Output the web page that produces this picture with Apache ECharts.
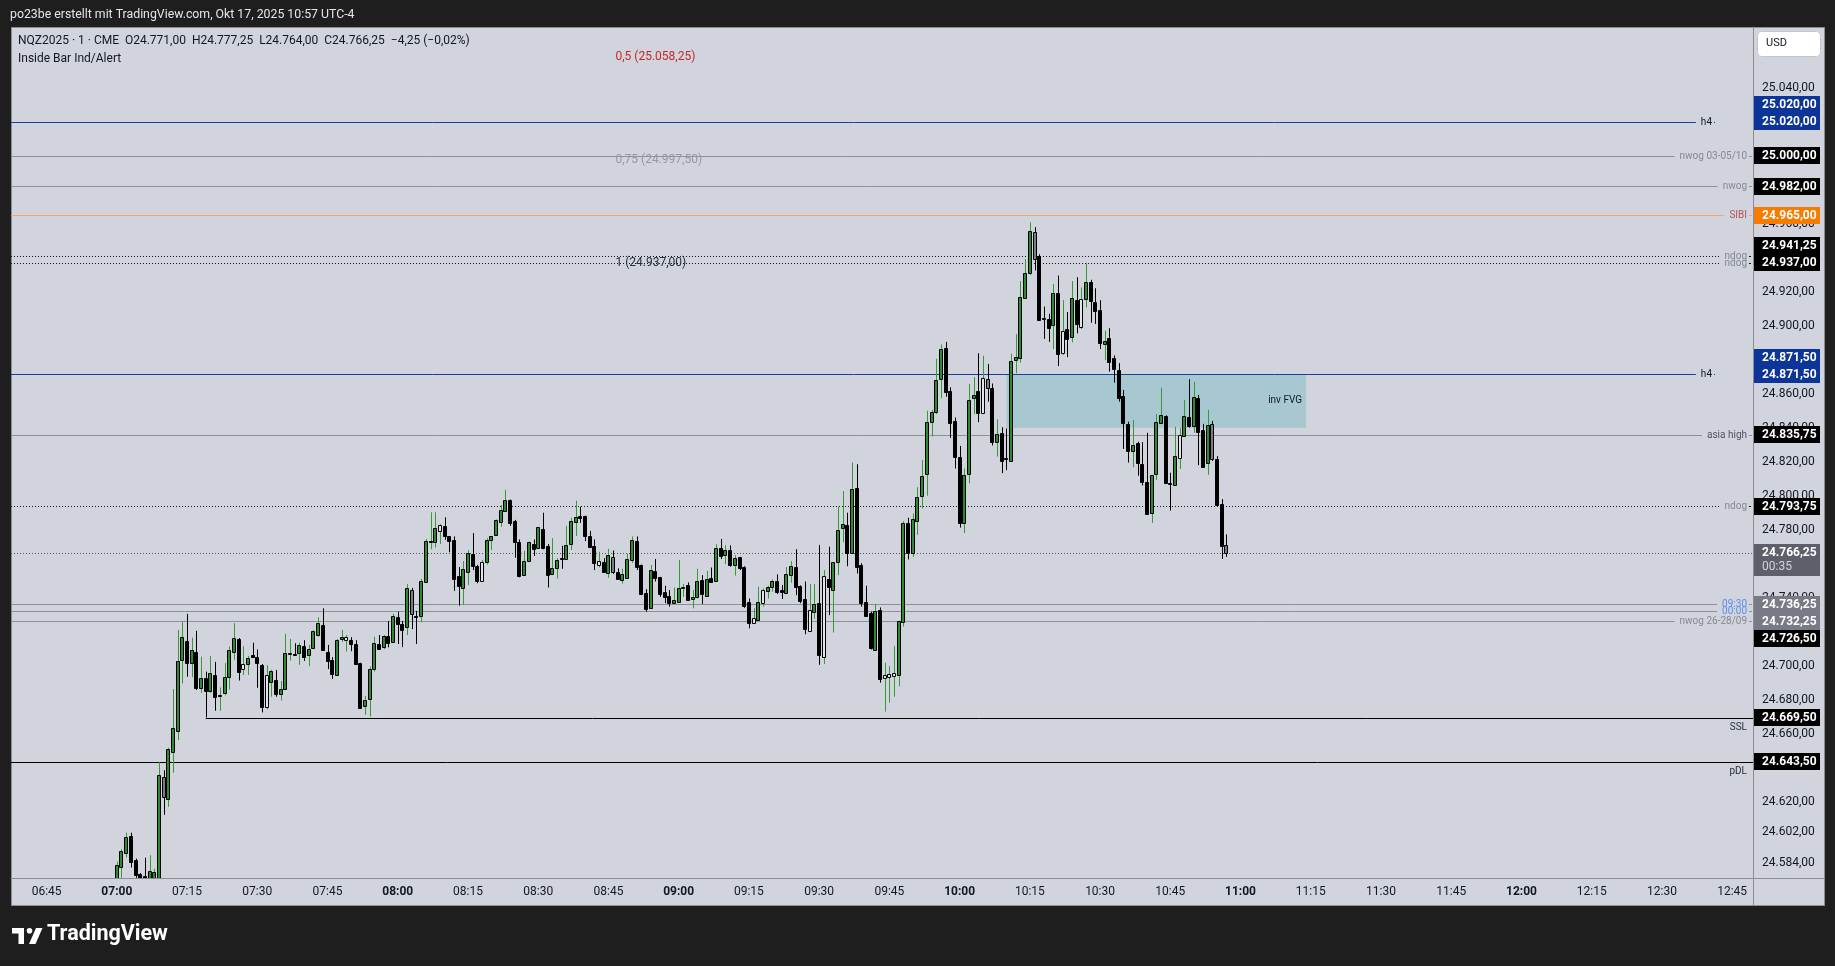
<!DOCTYPE html>
<html><head><meta charset="utf-8">
<script src="https://cdn.jsdelivr.net/npm/echarts@6/dist/echarts.min.js"></script>
<style>
html,body{margin:0;padding:0;background:#1e1e1e;width:1835px;height:966px;overflow:hidden}
#panel{position:absolute;left:11px;top:27px;width:1814px;height:879px;background:#d1d4dc;box-sizing:border-box;border:1px solid #8a8d96}
#chart{position:absolute;left:0;top:0;width:1835px;height:966px}
</style></head><body>
<div id="panel"></div><div id="chart"></div>
<script>
// ---------------- DATA ----------------
const symbolInfo = 'NQZ2025 · 1 · CME';
const indicatorName = 'Inside Bar Ind/Alert';
const headerText = 'po23be erstellt mit TradingView.com, Okt 17, 2025 10:57 UTC-4';
const countdown = '00:35';
const startTime = '07:00';           // time of first candle (1-minute bars)
const viewStart = -22.6;             // visible window, minutes from startTime
const viewEnd = 349.45;
const priceMin = 24575.1, priceMax = 25075.7;

const opens = [24572,24581.75,24590,24599.75,24585.75,24577.5,24576,24574,24574,24574,
24634.5,24621.75,24649.5,24661.75,24703.5,24714.5,24701.5,24708,24687,24692.5,
24685,24694.25,24682.5,24683.75,24693.25,24708.25,24715.5,24698,24700.75,24706.25,
24705,24700.5,24675.5,24690.5,24691.5,24683.5,24686,24707.25,24707,24707.25,
24711.5,24706,24710.25,24718,24724,24708,24703.25,24694.5,24715.75,24715.25,
24715,24712.75,24701.5,24676.5,24680.5,24698.25,24713,24711.25,24717.5,24714,
24728.5,24724.5,24722.5,24744.5,24729.25,24729.5,24749.5,24773,24773,24779.5,
24782.25,24776,24773.75,24752.5,24745.5,24755.25,24765.5,24758.5,24750,24761.25,
24774,24777,24784.75,24791,24797.5,24785,24772.75,24753.5,24761.75,24771.5,
24769.5,24780.25,24770.5,24753.75,24757.75,24763.25,24762.5,24771.5,24784.75,24788,
24788,24776,24770.5,24759.5,24761,24754.25,24763.75,24755,24750.5,24751.75,
24762.25,24773.25,24759.25,24742.5,24733.75,24755.75,24752,24743.25,24741,24736.75,
24737.25,24746.25,24747.25,24739.5,24740.5,24750.5,24741.25,24751.5,24750,24769,
24765,24768,24759.25,24763.75,24758.25,24737.25,24725,24727,24737,24744,
24746.5,24749.75,24744.5,24743,24753.25,24758,24747,24739.25,24720.5,24731.75,
24736.75,24705.25,24751,24744.5,24761.25,24780.75,24782.5,24766,24804.25,24759.25,
24737.25,24730.75,24709.5,24732.75,24692.5,24693.25,24694,24694.25,24725.5,24783.75,
24766.5,24785,24799.75,24812.5,24843.5,24849.5,24868.5,24886.75,24861.5,24844,
24822.5,24783.75,24812.5,24857.25,24861.5,24848.5,24868.5,24863.5,24831.75,24836.75,
24822,24820.5,24879.75,24881.25,24916.5,24931.25,24955,24941,24904.25,24904,
24900.5,24919.25,24884,24898,24893.25,24915,24899.5,24915.5,24925.5,24913.75,
24909.25,24889.5,24892.5,24880.75,24874,24858.75,24842.25,24826,24831.25,24818.5,
24808,24790,24812.5,24843,24847,24807.25,24806,24822,24835.25,24846,
24841.25,24857.25,24838.5,24819.5,24842.25,24821.5,24795,24771];

const highs = [24584.75,24592,24601.75,24601.75,24586.5,24578,24587,24588.5,24580.5,24643.25,
24638.5,24651.75,24686.25,24721,24725.75,24730.5,24716.5,24720.5,24705.25,24696.5,
24705.75,24702.25,24687.25,24701.5,24711.25,24725,24716.25,24711.5,24705.75,24713.5,
24709.5,24701,24700.25,24697.5,24697.5,24691,24718.75,24715.75,24713.25,24713.5,
24715,24712.25,24720.75,24728.5,24733.75,24712.25,24705,24715.75,24721,24718,
24716.75,24715,24701.75,24682.25,24699.5,24717,24718,24718,24726.25,24730.5,
24731.75,24726.25,24748,24745.75,24732.25,24751,24774.5,24790.25,24790.25,24783.25,
24787.25,24776.25,24776,24758,24761.5,24768,24778,24759.25,24762.25,24775,
24776.25,24786,24794.5,24803.5,24797.75,24785.75,24774.25,24767.5,24773,24774.25,
24781.5,24790,24771.5,24775,24763.25,24770.5,24782.25,24787,24797,24793.5,
24788.25,24779.25,24774.25,24767,24763.25,24768.75,24767.75,24757.25,24757,24765.75,
24776,24776,24759.5,24745,24759.25,24762.75,24752.25,24747,24744.5,24746,
24762.25,24748,24749,24744.5,24757,24753.25,24755.75,24757.75,24771.5,24774.5,
24770.75,24770.75,24765,24764,24758.5,24739.5,24733.75,24746.5,24745.5,24747,
24750.75,24753.75,24747.5,24758,24761.5,24768.5,24747.25,24749.5,24748,24748,
24771,24756.25,24770,24761,24793.5,24802.75,24790,24819.5,24818.5,24760.25,
24747,24731.75,24736.25,24734.25,24701.75,24699.75,24711.5,24726.5,24785,24787,
24789.5,24805,24821,24850,24850.5,24880.5,24889,24890.5,24863.75,24846,
24829.25,24816,24865.75,24869.75,24883.75,24882.25,24877.5,24866,24845,24840.25,
24839.5,24883.5,24895,24926.25,24939.25,24960.75,24958,24942,24911.25,24907,
24924.5,24929.5,24915,24908,24926.25,24928.5,24922.5,24936.75,24927,24922,
24915,24897,24898.5,24882.5,24878,24862.25,24843.5,24844.5,24831.75,24831.5,
24837,24812.25,24848,24863.5,24847.25,24813.5,24840.5,24840,24856.25,24868.5,
24867,24859.25,24842.25,24850.5,24844,24823.25,24798,24777.25];

const lows = [24568,24572,24587.25,24581.25,24574,24571,24569,24570,24571,24571,
24612.25,24617,24637,24656.25,24689.5,24693.5,24693.25,24685.75,24684,24669.5,
24684,24673.5,24673.5,24682.5,24686,24703.5,24691.25,24694.5,24694.5,24705,
24687,24672.5,24674.25,24681.75,24681.75,24679.5,24685.75,24703,24706,24700.5,
24702.75,24699.75,24709.75,24717,24709,24698,24692.25,24694,24714,24708.25,
24708.5,24700.75,24675,24671,24670,24696.5,24709.5,24709.75,24710.75,24713.75,
24712.75,24711,24718,24721.5,24712.75,24725.5,24748.75,24768.5,24769.5,24771.5,
24774,24766.75,24744,24735.25,24735.75,24747.5,24756.25,24748.5,24749.75,24759.5,
24768,24776.5,24781.75,24790.5,24782.25,24763.5,24752,24753,24761.5,24764.5,
24769,24768.5,24746,24753.5,24751.25,24757,24762.25,24768,24776.25,24784,
24773.25,24769.75,24756.25,24757.75,24754.75,24751.75,24754,24751,24748.25,24751.5,
24760.5,24756.25,24741.5,24731.75,24733.5,24749.5,24740.5,24736.75,24734.75,24736.5,
24737,24740.5,24738,24733.75,24739.5,24736.25,24741,24748.75,24749.75,24762.75,
24759.75,24758.25,24753,24756.25,24734,24722,24724.5,24726.75,24734.75,24739.5,
24743.5,24742.25,24739.25,24742.75,24748.75,24741.5,24736.75,24718.5,24720.25,24727.5,
24700.5,24701,24729.75,24719.5,24753.25,24772.5,24758.5,24765.75,24754.25,24734.75,
24729,24709.5,24709.25,24690,24673,24678.25,24681.75,24687.75,24723,24762.5,
24764,24777,24792.5,24800,24834.75,24848,24857.25,24858.25,24834,24816,
24781.25,24778,24807.25,24848,24843.25,24848.25,24855.25,24829.5,24823,24813.25,
24815,24820.25,24872,24878.25,24916,24929.75,24932.5,24903,24892.25,24890.5,
24886.25,24876.25,24882.75,24881.5,24890.25,24895.5,24898,24910.75,24901.75,24901,
24886.25,24879.75,24873,24866.5,24855.25,24827.5,24819.5,24816.75,24811.75,24806,
24789.5,24784,24809.25,24842.75,24807.25,24791.25,24805.75,24815.75,24835,24840,
24837,24818,24816.5,24812.25,24820.5,24794.25,24762.75,24764];

const closes = [24582.75,24591,24599.25,24584.75,24577,24575,24573,24579.25,24578.5,24635.75,
24622.5,24651,24663.5,24702.75,24717,24701.75,24709.5,24686.75,24692.5,24685.25,
24695.5,24681.75,24682.75,24693.25,24709.25,24716,24696.5,24700.75,24704.25,24705.25,
24701.5,24675.5,24694.25,24697,24683.25,24686,24707.25,24707.5,24706.75,24712,
24705,24709.75,24720.5,24725.25,24709.25,24702.5,24695.25,24715,24716.75,24716.75,
24712.75,24701,24675.25,24679.75,24698,24713.5,24709.75,24717.5,24713.5,24729.25,
24724.5,24721,24745.5,24730.25,24728.75,24749.75,24773.25,24773.25,24780.75,24783,
24776,24773.25,24751,24747,24757,24766,24758.5,24750,24760.75,24773.75,
24776,24785.75,24791.5,24797.5,24784,24773,24752.5,24761.5,24772.5,24768.75,
24781.5,24769,24753.5,24757.25,24762.25,24762.5,24770.75,24785,24787.25,24787,
24776,24770,24760.25,24761.5,24755.25,24765,24755.25,24751.25,24754,24762.75,
24774,24758.25,24742.25,24733.5,24756.25,24751.75,24742.25,24740.25,24736.75,24738.75,
24745.5,24746.5,24738.5,24740.25,24749.75,24742,24750.75,24749,24769,24764.75,
24768,24759,24763.25,24757.75,24735,24725,24728,24737.25,24744.5,24746.25,
24749.75,24743.5,24743.25,24753.75,24758.5,24746,24738,24721.75,24732.75,24736.25,
24706,24752.75,24746.5,24760.75,24779.75,24783.25,24766,24803.75,24758,24736.75,
24729.5,24710.25,24732.25,24692,24694.25,24695,24695.5,24726.25,24783.75,24766,
24786,24799.5,24811.75,24843.25,24849,24868,24886,24861.25,24843,24822.5,
24783.75,24812.25,24856.25,24859,24848.5,24869,24863.25,24831.75,24836,24820.5,
24821.5,24879.5,24881.75,24916.75,24930.75,24955.75,24939.5,24903.5,24904,24898.75,
24919.5,24883.5,24897,24892,24916,24900.75,24915.5,24925.5,24914.25,24908.75,
24890,24891,24878.75,24874.25,24857.75,24842.5,24826,24829.75,24819.5,24808.25,
24789.5,24812,24843.25,24847.5,24807.25,24806.75,24823.25,24835.75,24847,24841,
24858,24837.75,24817,24841.5,24821.5,24794.5,24770.5,24766.25];

// bars flagged by the "Inside Bar Ind/Alert" indicator
const insideBars = [10,27,32,49,63,69,78,103,106,136,138,148,151,164,165,166,185,186,196,202,206,227,234,237];

const timeTicks = ['06:45','07:00','07:15','07:30','07:45','08:00','08:15','08:30','08:45','09:00','09:15','09:30','09:45',
  '10:00','10:15','10:30','10:45','11:00','11:15','11:30','11:45','12:00','12:15','12:30','12:45'];
const priceTicks = [25040,24960,24920,24900,24860,24840,24820,24800,24780,24760,24740,24700,24680,24660,24620,24602,24584];

const levelNames  = ['h4','nwog 03-05/10','nwog','SIBI','ndog','ndog','h4','asia high','ndog','','09:30','00:00','nwog 26-28/09','SSL','pDL'];
const levelPrices = [25020,25000,24982,24965,24941.25,24937,24871.5,24835.75,24793.75,24766.25,24736.25,24732.25,24726.5,24669.5,24643.5];
const levelKinds  = ['h4','nwog','nwog','sibi','ndog','ndog','h4','asia','ndog','last','session','session','nwog','liq','liq'];
const levelStarts = [null,null,null,null,null,null,null,null,null,null,null,null,null,'07:19',null];

const tagPrices = [25020,25020,25000,24982,24965,24941.25,24937,24871.5,24871.5,24835.75,24793.75,24766.25,24736.25,24732.25,24726.5,24669.5,24643.5];
const tagKinds  = ['h4','h4','plain','plain','sibi','plain','plain','h4','h4','plain','plain','last','session','session','plain','plain','plain'];

const fibLevels = [0.5, 0.75, 1];
const fibPrices = [25058.25, 24997.5, 24937];
const fibLabelTime = 106.5; // minutes from startTime (fib tool anchor)

const fvgStart = '10:10', fvgEnd = '11:14', fvgLow = 24840, fvgHigh = 24871.5, fvgName = 'inv FVG';

// ---------------- HELPERS ----------------
const baseMin = (()=>{const [h,m]=startTime.split(':').map(Number);return h*60+m;})();
const toMin = t => {const [h,m]=t.split(':').map(Number);return h*60+m-baseMin;};
const minToStr = v => {const t=Math.round(v)+baseMin;const h=Math.floor(t/60),m=t%60;return String(h).padStart(2,'0')+':'+String(m).padStart(2,'0');};
function fmtPrice(v){const s=Math.abs(v).toFixed(2).split('.');return (v<0?'−':'')+s[0].replace(/\B(?=(\d{3})+(?!\d))/g,'.')+','+s[1];}
function fmtNum(v){return (v<0?'−':'')+Math.abs(v).toFixed(2).replace('.',',');}
const mctx=document.createElement('canvas').getContext('2d');
function tw(text,font){mctx.font=font;return mctx.measureText(text).width;}
const insideSet = new Set(insideBars);

const N=closes.length;
const lastO=opens[N-1],lastH=highs[N-1],lastL=lows[N-1],lastC=closes[N-1];
const chg=lastC-closes[N-2], pct=chg/closes[N-2]*100;
const legendText = `${symbolInfo}  O${fmtPrice(lastO)}  H${fmtPrice(lastH)}  L${fmtPrice(lastL)}  C${fmtPrice(lastC)}  ${fmtNum(chg)} (${fmtNum(pct)}%)`;

const FONT='Roboto';
const levelStyle = {
  h4:{line:'#1a3d9e', text:'#131722', gap:41, tick:1},
  nwog:{line:'#8d9099', text:'#868993', gap:6, tick:3},
  sibi:{line:'#f4a46f', text:'#b4545c', gap:6, tick:3},
  ndog:{line:'#131722', dash:[1,2], text:'#868993', gap:6, tick:2},
  asia:{line:'#8d9099', text:'#50535e', gap:6, tick:3},
  last:{line:'#50535e', dash:[1,2]},
  session:{line:'#8d9099', text:'#5b8def', gap:6, tick:3},
  liq:{line:'#000000', text:'#2a2e39', below:true}
};
const tagBg = {h4:'#0d3497', plain:'#000000', sibi:'#f57c00', last:'#5d606b', session:'#787b86'};
const fibColors = {0.5:'#c62828', 0.75:'#9598a1', 1:'#2a2e39'};

function layoutTags(api){
  const H=17;
  const items=tagPrices.map((p,k)=>({k,y:api.coord([viewStart,p])[1]}));
  const sorted=[...items].sort((a,b)=>a.y-b.y);
  const clusters=[];let cur=[sorted[0]];
  for(let j=1;j<sorted.length;j++){
    if(sorted[j].y-cur[cur.length-1].y<H) cur.push(sorted[j]); else {clusters.push(cur);cur=[sorted[j]];}
  }
  clusters.push(cur);
  const pos={};
  clusters.forEach(c=>{
    const n=c.length;
    if(n>=3) c.forEach((it,j)=>pos[it.k]=c[0].y+j*H);
    else c.forEach((it,j)=>pos[it.k]=c[n-1].y-(n-1-j)*H);
  });
  return pos;
}

// ---------------- CHART ----------------
const chart = echarts.init(document.getElementById('chart'), null, {renderer:'canvas', width:1835, height:966});

const option = {
  animation:false,
  backgroundColor:'transparent',
  grid:{left:11, right:82, top:27, bottom:88, containLabel:false},
  xAxis:{type:'value', min:viewStart, max:viewEnd,
    axisLine:{show:true, onZero:false, lineStyle:{color:'#8a8d96'}}, axisTick:{show:false}, splitLine:{show:false},
    axisLabel:{customValues:timeTicks.map(toMin), margin:8, color:'#131722', fontSize:12, fontFamily:FONT,
      formatter:v=>{const s=minToStr(v);return s.endsWith(':00')?'{b|'+s+'}':s;},
      rich:{b:{fontWeight:'bold', fontSize:12, fontFamily:FONT, color:'#131722'}}}},
  yAxis:{type:'value', position:'right', min:priceMin, max:priceMax, scale:true,
    axisLine:{show:true, onZero:false, lineStyle:{color:'#8a8d96'}}, axisTick:{show:false}, splitLine:{show:false},
    axisLabel:{customValues:priceTicks, margin:9, color:'#131722', fontSize:12, fontFamily:FONT, formatter:v=>fmtPrice(v)}},
  graphic:[
    {type:'text', x:10, y:9, z:100, style:{text:headerText, fill:'#e3e5ea', font:'12.3px '+FONT}},
    {type:'text', x:18, y:35, z:100, style:{text:legendText, fill:'#131722', font:'12px '+FONT}},
    {type:'text', x:18, y:52.5, z:100, style:{text:indicatorName, fill:'#131722', font:'12px '+FONT}},
    {type:'rect', z:100, shape:{x:1757.5, y:31.5, width:63, height:25, r:4}, style:{fill:'#ffffff', stroke:'#c4c7cf', lineWidth:1}},
    {type:'text', x:1766, y:38, z:101, style:{text:'USD', fill:'#131722', font:'11px '+FONT}},
    {type:'line', z:1, shape:{x1:11, y1:878.5, x2:1824, y2:878.5}, style:{stroke:'#8a8d96', lineWidth:1}},
    {type:'line', z:1, shape:{x1:1753.5, y1:27, x2:1753.5, y2:905}, style:{stroke:'#8a8d96', lineWidth:1}},
    // TradingView logo
    {type:'polygon', z:100, shape:{points:[[12,928],[24,928],[24,944],[18.5,944],[18.5,933.5],[12,933.5]]}, style:{fill:'#ffffff'}},
    {type:'circle', z:100, shape:{cx:29.5, cy:930.8, r:2.8}, style:{fill:'#ffffff'}},
    {type:'polygon', z:100, shape:{points:[[36,928],[42.5,928],[35.5,944],[29,944]]}, style:{fill:'#ffffff'}},
    {type:'text', x:47, y:924, z:100, style:{text:'TradingView', fill:'#ffffff', font:'bold 21.5px '+FONT}}
  ],
  series:[
    // FVG box
    {type:'custom', z:1, clip:true, data:[[toMin(fvgStart), fvgLow, toMin(fvgEnd), fvgHigh]],
     renderItem(params, api){
       const p1=api.coord([api.value(0), api.value(3)]), p2=api.coord([api.value(2), api.value(1)]);
       return {type:'group', children:[
         {type:'rect', shape:{x:p1[0], y:p1[1], width:p2[0]-p1[0], height:p2[1]-p1[1]}, style:{fill:'#a7c8d0'}},
         {type:'text', style:{text:fvgName, x:p2[0]-4, y:(p1[1]+p2[1])/2, align:'right', verticalAlign:'middle', fill:'#131722', font:'10px '+FONT}}
       ]};
     }},
    // horizontal levels
    {type:'custom', z:2, clip:false, data:levelPrices.map(p=>[viewStart,p]),
     renderItem(params, api){
       const k=params.dataIndex, cs=params.coordSys;
       const gl=cs.x, gr=cs.x+cs.width;
       const y=Math.round(api.coord([viewStart, levelPrices[k]])[1])+0.5;
       const st=levelStyle[levelKinds[k]];
       const x0=levelStarts[k]!=null ? api.coord([toMin(levelStarts[k]), levelPrices[k]])[0] : gl;
       const ls={stroke:st.line, lineWidth:1}; if(st.dash) ls.lineDash=st.dash;
       const name=levelNames[k], font='10px '+FONT;
       const ch=[];
       if(!name){
         ch.push({type:'line', shape:{x1:x0,y1:y,x2:gr,y2:y}, style:ls});
       } else if(st.below){
         ch.push({type:'line', shape:{x1:x0,y1:y,x2:gr,y2:y}, style:ls});
         ch.push({type:'text', style:{text:name, x:gr-6, y:y+8.5, align:'right', verticalAlign:'middle', fill:st.text, font}});
       } else {
         const tr=gr-st.gap, w=tw(name,font);
         ch.push({type:'line', shape:{x1:x0,y1:y,x2:tr-w-5,y2:y}, style:ls});
         ch.push({type:'text', style:{text:name, x:tr, y:y, align:'right', verticalAlign:'middle', fill:st.text, font}});
         ch.push({type:'line', shape:{x1:tr+2,y1:y,x2:tr+2+st.tick,y2:y}, style:{stroke:st.line, lineWidth:1}});
       }
       return {type:'group', children:ch};
     }},
    // candles
    {type:'custom', z:3, clip:true,
     data:opens.map((o,i)=>[i, o, closes[i], lows[i], highs[i]]),
     renderItem(params, api){
       const i=api.value(0), o=api.value(1), c=api.value(2), l=api.value(3), h=api.value(4);
       const up=c>=o, ins=insideSet.has(params.dataIndex);
       const pO=api.coord([i,o]), pC=api.coord([i,c]), pL=api.coord([i,l]), pH=api.coord([i,h]);
       const xr=Math.round(pO[0]);
       const t=Math.round(Math.min(pO[1],pC[1])); let b=Math.round(Math.max(pO[1],pC[1])); if(b-t<1) b=t+1;
       const fill = ins ? (up?'#e2e4ea':'#7a7d85') : (up?'#2b8a33':'#000000');
       const wick = up ? '#369a36' : '#000000';
       return {type:'group', children:[
         {type:'line', shape:{x1:xr+0.5,y1:pH[1],x2:xr+0.5,y2:pL[1]}, style:{stroke:wick, lineWidth:1}},
         {type:'rect', shape:{x:xr-1.5, y:t+0.5, width:3, height:b-t}, style:{fill, stroke:'#000000', lineWidth:1}}
       ]};
     }},
    // fib labels
    {type:'custom', z:4, clip:false, data:fibPrices.map(p=>[fibLabelTime,p]),
     renderItem(params, api){
       const k=params.dataIndex, p=api.coord([api.value(0), api.value(1)]);
       const lv=fibLevels[k];
       const txt=String(lv).replace('.',',')+' ('+fmtPrice(fibPrices[k])+')';
       return {type:'text', style:{text:txt, x:p[0], y:p[1]+0.5, align:'left', verticalAlign:'middle', fill:fibColors[lv], font:'12px '+FONT}};
     }},
    // price tags on the right axis
    {type:'custom', z:10, clip:false, data:tagPrices.map(p=>[viewStart,p]),
     renderItem(params, api){
       const k=params.dataIndex, cs=params.coordSys;
       const pos=layoutTags(api); const y=pos[k];
       const x0=cs.x+cs.width+1, kind=tagKinds[k];
       if(kind==='last'){
         const top=Math.round(y)-9;
         return {type:'group', children:[
           {type:'rect', shape:{x:x0, y:top, width:66, height:32}, style:{fill:tagBg[kind]}},
           {type:'text', style:{text:fmtPrice(tagPrices[k]), x:x0+8, y:top+8.5, align:'left', verticalAlign:'middle', fill:'#ffffff', font:'bold 12px '+FONT}},
           {type:'text', style:{text:countdown, x:x0+8, y:top+23, align:'left', verticalAlign:'middle', fill:'#d1d4dc', font:'12px '+FONT}}
         ]};
       }
       const top=Math.round(y-8.5);
       return {type:'group', children:[
         {type:'rect', shape:{x:x0, y:top, width:66, height:17}, style:{fill:tagBg[kind]}},
         {type:'text', style:{text:fmtPrice(tagPrices[k]), x:x0+8, y:top+8.5, align:'left', verticalAlign:'middle', fill:'#ffffff', font:'bold 12px '+FONT}}
       ]};
     }}
  ]
};
chart.setOption(option);
</script></body></html>
